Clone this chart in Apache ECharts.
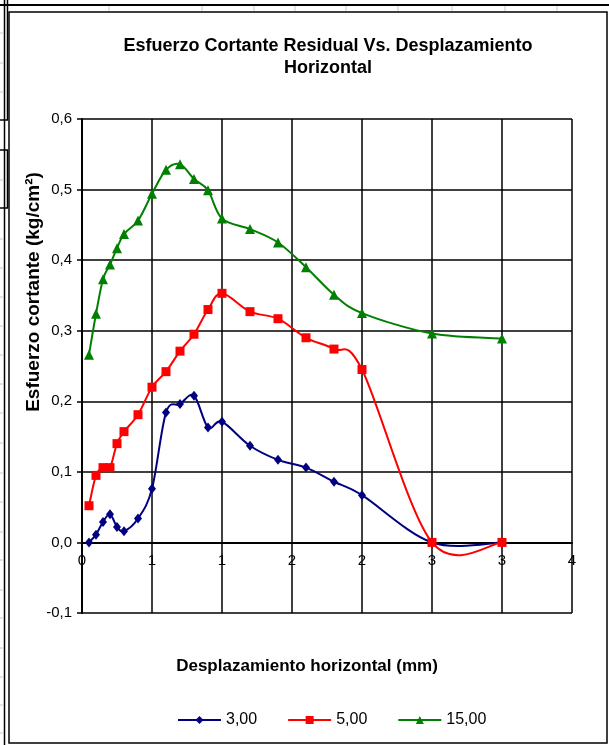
<!DOCTYPE html>
<html>
<head>
<meta charset="utf-8">
<script src="https://cdn.jsdelivr.net/npm/echarts@6/dist/echarts.min.js"></script>
<style>
  html, body { margin: 0; padding: 0; background: #fff; }
  #chart { width: 609px; height: 745px; }
</style>
</head>
<body>
<div id="chart"></div>
<script>
// Desplazamiento horizontal (mm) de cada lectura
const desplazamiento = [0.05, 0.1, 0.15, 0.2, 0.25, 0.3, 0.4, 0.5, 0.6, 0.7, 0.8, 0.9, 1.0, 1.2, 1.4, 1.6, 1.8, 2.0, 2.5, 3.0];

// Esfuerzo cortante (kg/cm²) por carga normal
const serie300 = [0.000, 0.011, 0.029, 0.040, 0.022, 0.016, 0.034, 0.076, 0.184, 0.196, 0.208, 0.163, 0.171, 0.137, 0.117, 0.106, 0.086, 0.067, 0.000, 0.000];
const serie500 = [0.052, 0.095, 0.106, 0.106, 0.140, 0.157, 0.181, 0.220, 0.242, 0.271, 0.295, 0.330, 0.353, 0.327, 0.317, 0.290, 0.274, 0.245, 0.000, 0.000];
const serie1500 = [0.266, 0.324, 0.373, 0.394, 0.417, 0.437, 0.456, 0.494, 0.528, 0.536, 0.515, 0.499, 0.459, 0.444, 0.425, 0.390, 0.351, 0.325, 0.296, 0.289];

const nombresSeries = ['3,00', '5,00', '15,00'];
const colores = ['#000080', '#ff0000', '#008000'];

// Etiquetas del eje X (formato sin decimales, paso 0,5)
const xTickLabels = ['0', '1', '1', '2', '2', '3', '3', '4'];

const FONT = "'Liberation Sans', Arial, sans-serif";

function pares(ys) {
  return desplazamiento.map((x, i) => [x, ys[i]]);
}

// Curva suavizada (Catmull-Rom -> Bézier) entre cada par de puntos consecutivos
function curva(ys, color) {
  const pts = pares(ys);
  const n = pts.length;
  return {
    type: 'custom',
    data: pts,
    silent: true,
    z: 2,
    encode: { x: 0, y: 1 },
    renderItem(params, api) {
      const i = params.dataIndex;
      if (i >= n - 1) return null;
      const c = k => api.coord(pts[Math.max(0, Math.min(n - 1, k))]);
      const p0 = c(i - 1), p1 = c(i), p2 = c(i + 1), p3 = c(i + 2);
      const t = 1 / 6;
      return {
        type: 'bezierCurve',
        shape: {
          x1: p1[0], y1: p1[1], x2: p2[0], y2: p2[1],
          cpx1: p1[0] + (p2[0] - p0[0]) * t, cpy1: p1[1] + (p2[1] - p0[1]) * t,
          cpx2: p2[0] - (p3[0] - p1[0]) * t, cpy2: p2[1] - (p3[1] - p1[1]) * t
        },
        style: { stroke: color, lineWidth: 2, fill: null }
      };
    }
  };
}

// Decoración de la hoja de cálculo alrededor del gráfico
const hoja = [];
hoja.push({ type: 'line', shape: { x1: 0, y1: 5, x2: 609, y2: 5 }, style: { stroke: '#000', lineWidth: 2 }, z: 1 });
hoja.push({ type: 'line', shape: { x1: 4.5, y1: 0, x2: 4.5, y2: 745 }, style: { stroke: '#000', lineWidth: 1.5 }, z: 1 });
hoja.push({ type: 'line', shape: { x1: 7.5, y1: 0, x2: 7.5, y2: 120 }, style: { stroke: '#000', lineWidth: 1.5 }, z: 1 });
hoja.push({ type: 'line', shape: { x1: 7.5, y1: 150, x2: 7.5, y2: 208 }, style: { stroke: '#000', lineWidth: 1.5 }, z: 1 });
[120, 150, 208].forEach(y => hoja.push({ type: 'line', shape: { x1: 0, y1: y, x2: 8, y2: y }, style: { stroke: '#000', lineWidth: 1.5 }, z: 1 }));
[33, 63, 92, 180, 239, 268, 297, 326, 355, 384, 413, 443, 473, 502, 532, 560, 590, 618, 648, 677, 705, 733].forEach(y =>
  hoja.push({ type: 'line', shape: { x1: 0, y1: y, x2: 4, y2: y }, style: { stroke: '#c8c8c8', lineWidth: 1 }, z: 1 }));
[109, 202, 254, 295, 346, 398, 452, 505, 557].forEach(x =>
  hoja.push({ type: 'line', shape: { x1: x, y1: 6, x2: x, y2: 11 }, style: { stroke: '#c8c8c8', lineWidth: 1 }, z: 1 }));

const GRID = { left: 82, top: 119, width: 490, height: 494 };
const Y_MIN = -0.1, Y_MAX = 0.6;
// desplaza el eje X hasta la línea de esfuerzo cero
const offsetEjeX = -GRID.height * (0 - Y_MIN) / (Y_MAX - Y_MIN);

const chart = echarts.init(document.getElementById('chart'), null, { renderer: 'canvas' });

const marcadores = [
  { symbol: 'diamond', symbolSize: [8, 10] },
  { symbol: 'rect', symbolSize: 9 },
  { symbol: 'triangle', symbolSize: 10 }
];
const datos = [serie300, serie500, serie1500];

chart.setOption({
  backgroundColor: '#fff',
  animation: false,
  textStyle: { fontFamily: FONT },
  title: {
    text: 'Esfuerzo Cortante Residual Vs. Desplazamiento\nHorizontal',
    left: 323,
    top: 30,
    textAlign: 'center',
    textStyle: { fontFamily: FONT, fontSize: 18, fontWeight: 'bold', color: '#000', lineHeight: 22 }
  },
  graphic: [
    { type: 'rect', shape: { x: 9, y: 12, width: 598, height: 731 }, style: { fill: '#fff', stroke: '#000', lineWidth: 1.5 }, z: 0, silent: true },
    ...hoja,
    {
      type: 'text', x: 34, y: 292, rotation: Math.PI / 2, z: 5,
      style: { text: 'Esfuerzo cortante (kg/cm²)', fontFamily: FONT, fontSize: 19, fontWeight: 'bold', fill: '#000', align: 'center', verticalAlign: 'middle' }
    },
    {
      type: 'text', x: 307, y: 666, z: 5,
      style: { text: 'Desplazamiento horizontal (mm)', fontFamily: FONT, fontSize: 17, fontWeight: 'bold', fill: '#000', align: 'center', verticalAlign: 'middle' }
    }
  ],
  legend: {
    left: 172,
    top: 707,
    itemWidth: 43,
    itemHeight: 10,
    itemGap: 30,
    textStyle: { fontFamily: FONT, fontSize: 16, color: '#000' },
    data: nombresSeries.map((name, i) => ({
      name,
      lineStyle: { color: colores[i], width: 2, opacity: 1 },
      itemStyle: { color: colores[i] }
    }))
  },
  grid: Object.assign({
    show: true, borderColor: '#000', borderWidth: 2, backgroundColor: 'transparent',
    containLabel: false
  }, GRID),
  xAxis: {
    type: 'value',
    min: 0, max: 3.5, interval: 0.5,
    position: 'bottom',
    offset: offsetEjeX,
    axisLine: { onZero: false, lineStyle: { color: '#000', width: 2 } },
    axisTick: { show: false },
    axisLabel: {
      margin: 11, fontSize: 15, color: '#000', fontFamily: FONT,
      formatter: v => xTickLabels[Math.round(v / 0.5)]
    },
    splitLine: { show: true, lineStyle: { color: '#000', width: 1.5 } }
  },
  yAxis: {
    type: 'value',
    min: Y_MIN, max: Y_MAX, interval: 0.1,
    axisLine: { onZero: false, lineStyle: { color: '#000', width: 2 } },
    axisTick: { show: true, length: 5, lineStyle: { color: '#000', width: 1.5 } },
    axisLabel: {
      margin: 10, fontSize: 15, color: '#000', fontFamily: FONT,
      formatter: v => v.toFixed(1).replace('.', ',')
    },
    splitLine: { show: true, lineStyle: { color: '#000', width: 1.5 } }
  },
  series: [
    ...datos.map((ys, i) => curva(ys, colores[i])),
    ...datos.map((ys, i) => ({
      name: nombresSeries[i], type: 'line', data: pares(ys),
      symbol: marcadores[i].symbol, symbolSize: marcadores[i].symbolSize,
      itemStyle: { color: colores[i] },
      lineStyle: { color: colores[i], width: 2, opacity: 0 },
      z: 3
    }))
  ]
});
</script>
</body>
</html>
